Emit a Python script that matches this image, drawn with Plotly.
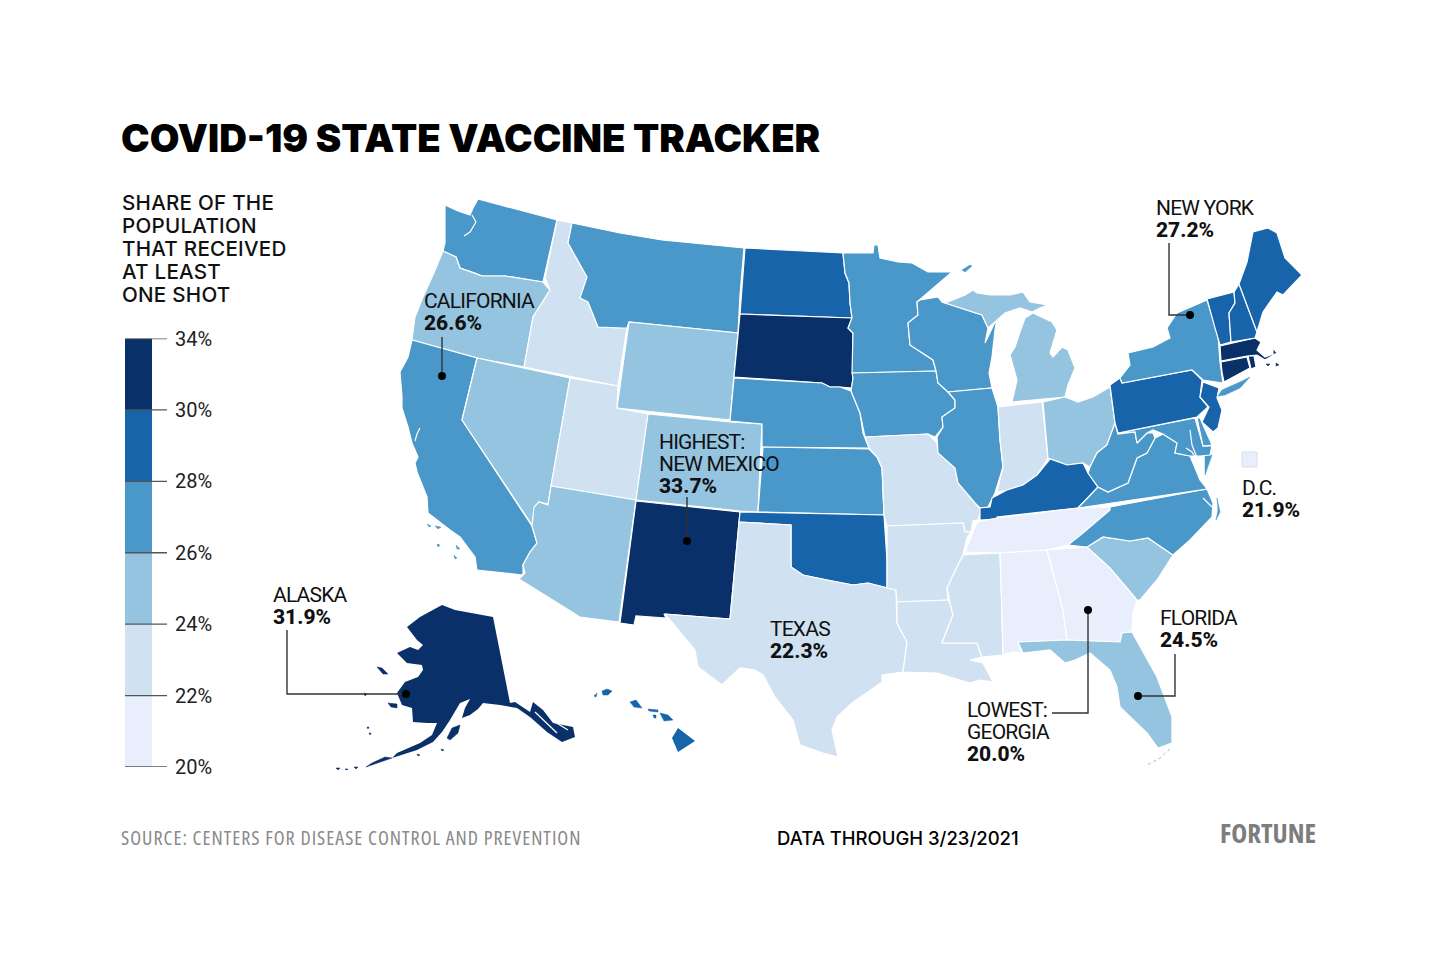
import plotly.graph_objects as go

# plotly's state topojson lives on a CDN that isn't reachable here, so the state
# outlines are traced by hand from the picture (x, y in image pixels)
state_codes = ["WA", "OR", "CA", "NV", "ID", "MT", "WY", "UT", "AZ", "CO", "NM", "ND", "SD", "NE", "KS", "OK", "TX",
               "MN", "IA", "MO", "AR", "LA", "WI", "IL", "MI", "IN", "OH", "KY", "TN", "MS", "AL", "GA", "FL", "SC",
               "NC", "VA", "WV", "MD", "DE", "PA", "NJ", "NY", "CT", "RI", "MA", "VT", "NH", "ME", "AK", "HI"]
state_values = [27.0, 25.0, 26.6, 25.0, 23.0, 27.0, 25.0, 23.0, 25.0, 25.0, 33.7, 29.0, 32.0, 27.0, 27.0, 29.0, 22.3,
                27.0, 27.0, 23.0, 23.0, 23.0, 27.0, 27.0, 25.0, 23.0, 25.0, 29.0, 21.0, 23.0, 21.0, 20.0, 24.5, 25.0,
                27.0, 27.0, 27.0, 27.0, 27.0, 29.0, 29.0, 27.2, 31.0, 31.0, 31.0, 29.0, 29.0, 29.0, 31.9, 29.0]
dc_value = 21.9

bin_edges = [20, 22, 24, 26, 28, 30, 34]
bin_colors = ["#e8eefb", "#d0e1f2", "#94c4df", "#4a98c9", "#1764ab", "#0a3069"]
tick_labels = ["20%", "22%", "24%", "26%", "28%", "30%", "34%"]

state_outlines = {
    "WA": [[(445, 205), (458, 211), (470, 215), (473, 208), (478, 199), (512, 208), (557, 220), (543, 282), (505, 276),
            (482, 276), (475, 273), (460, 268), (456, 257), (443, 251), (445, 243), (445, 223)]],
    "OR": [[(443, 251), (456, 257), (460, 268), (475, 273), (482, 276), (505, 276), (543, 282), (550, 290), (533, 317),
            (524, 367), (477, 358), (412, 340), (415, 317), (423, 297), (433, 275)]],
    "CA": [[(412, 340), (477, 358), (462, 420), (532, 526), (537, 543), (530, 552), (523, 565), (523, 575), (477, 570),
            (475, 557), (460, 537), (450, 530), (428, 513), (427, 497), (417, 472), (415, 463), (418, 457), (412, 443),
            (408, 427), (402, 408), (402, 397), (400, 372), (408, 357)]],
    "NV": [[(477, 358), (570, 378), (551, 486), (548, 504), (539, 502), (535, 507), (532, 525), (462, 420)]],
    "ID": [[(557, 220), (572, 223), (568, 243), (587, 277), (580, 298), (588, 302), (598, 327), (622, 328), (627, 327),
            (618, 386), (524, 367), (533, 317), (550, 290), (545, 278)]],
    "MT": [[(572, 223), (620, 233), (662, 240), (744, 248), (740, 295), (738, 333), (629, 322), (627, 328), (622, 328),
            (598, 327), (588, 302), (580, 298), (587, 277), (568, 243)]],
    "WY": [[(629, 322), (738, 333), (730, 420), (617, 408)]],
    "UT": [[(570, 378), (618, 386), (617, 408), (648, 414), (636, 500), (551, 486)]],
    "AZ": [[(551, 486), (636, 500), (619, 622), (580, 617), (519, 579), (525, 573), (523, 565), (530, 552), (537, 543),
            (532, 526), (534, 507), (539, 502), (548, 505)]],
    "CO": [[(648, 414), (730, 422), (762, 424), (758, 512), (740, 511), (636, 500)]],
    "NM": [[(636, 501), (740, 512), (730, 619), (664, 614), (666, 618), (636, 616), (634, 625), (620, 623)]],
    "ND": [[(745, 248), (800, 251), (843, 253), (845, 273), (849, 283), (850, 303), (852, 318), (740, 314)]],
    "SD": [[(740, 314), (852, 318), (848, 328), (853, 333), (853, 375), (852, 388), (840, 387), (830, 387), (822, 383),
            (734, 377)]],
    "NE": [[(734, 378), (822, 383), (830, 387), (840, 387), (851, 391), (860, 413), (863, 433), (869, 448), (762, 447),
            (762, 424), (730, 421)]],
    "KS": [[(763, 447), (869, 449), (877, 457), (882, 468), (884, 515), (758, 512)]],
    "OK": [[(740, 512), (884, 515), (887, 560), (887, 588), (868, 583), (853, 585), (827, 580), (803, 575), (791, 567),
            (791, 525), (739, 522)]],
    "TX": [[(739, 522), (791, 525), (791, 567), (803, 575), (827, 580), (853, 585), (868, 583), (887, 588), (896, 590),
            (897, 623), (907, 642), (903, 672), (882, 675), (882, 682), (860, 697), (852, 703), (837, 717), (832, 730),
            (838, 757), (823, 753), (800, 745), (793, 720), (775, 697), (763, 675), (755, 670), (740, 668), (722, 685),
            (698, 667), (695, 650), (680, 632), (665, 614), (730, 619)]],
    "MN": [[(843, 253), (873, 253), (874, 245), (878, 245), (880, 258), (898, 262), (912, 263), (928, 272), (952, 272),
            (920, 300), (917, 302), (918, 315), (908, 323), (910, 345), (933, 360), (936, 371), (852, 373), (853, 333),
            (848, 328), (852, 318), (850, 303), (849, 283), (845, 273)]],
    "IA": [[(852, 373), (936, 371), (938, 383), (948, 392), (955, 400), (955, 408), (942, 417), (943, 427), (935, 437),
            (928, 434), (865, 437), (860, 413), (851, 391), (853, 378)]],
    "MO": [[(865, 437), (928, 434), (937, 443), (938, 453), (955, 468), (958, 483), (975, 503), (981, 510), (978, 520),
            (973, 521), (971, 532), (965, 532), (963, 523), (887, 526), (884, 515), (882, 468), (877, 457), (869, 448)]],
    "AR": [[(887, 526), (963, 523), (965, 532), (971, 532), (967, 538), (963, 555), (957, 567), (947, 588), (948, 600),
            (897, 602), (896, 590), (887, 588), (887, 543)]],
    "LA": [[(897, 602), (948, 600), (950, 603), (953, 615), (942, 643), (977, 643), (982, 657), (970, 660), (983, 663),
            (993, 682), (980, 680), (970, 683), (950, 677), (937, 673), (903, 672), (907, 642), (897, 623)]],
    "WI": [[(920, 300), (938, 297), (942, 302), (982, 315), (988, 328), (985, 343), (997, 318), (995, 330), (992, 357),
            (989, 373), (992, 388), (948, 392), (938, 383), (936, 371), (933, 360), (910, 345), (908, 323), (918, 315),
            (917, 302)]],
    "IL": [[(948, 392), (992, 388), (998, 407), (1000, 440), (1003, 467), (995, 493), (988, 507), (980, 508), (975, 503),
            (958, 483), (955, 468), (938, 453), (937, 437), (943, 427), (942, 417), (955, 408), (955, 400)]],
    "MI": [[(942, 302), (948, 302), (965, 295), (973, 290), (977, 293), (990, 295), (1010, 295), (1023, 292), (1030, 302),
            (1048, 305), (1040, 308), (1032, 312), (1020, 308), (1005, 313), (995, 322), (988, 328), (982, 315)],
           [(1012, 402), (1065, 397), (1068, 385), (1075, 368), (1068, 350), (1062, 347), (1053, 357), (1050, 353),
            (1057, 330), (1052, 322), (1033, 313), (1025, 318), (1020, 332), (1015, 347), (1010, 355), (1017, 380)]],
    "IN": [[(998, 407), (1042, 402), (1048, 458), (1037, 475), (1023, 485), (1007, 490), (997, 492), (1003, 467),
            (1000, 440)]],
    "OH": [[(1043, 402), (1065, 397), (1078, 402), (1093, 397), (1110, 387), (1115, 423), (1107, 445), (1097, 453),
            (1090, 467), (1083, 463), (1067, 465), (1050, 459), (1048, 458)]],
    "KY": [[(980, 520), (980, 508), (990, 507), (992, 498), (1007, 490), (1023, 485), (1037, 475), (1050, 459), (1067, 465),
            (1083, 463), (1088, 473), (1098, 487), (1078, 508), (997, 517), (997, 519)]],
    "TN": [[(965, 552), (977, 522), (997, 518), (1078, 508), (1110, 507), (1110, 510), (1083, 533), (1068, 545), (1047, 550),
            (1000, 553)]],
    "MS": [[(963, 555), (1000, 553), (1002, 613), (1003, 655), (982, 657), (977, 643), (942, 643), (953, 615), (950, 603),
            (947, 588), (957, 567)]],
    "AL": [[(1000, 553), (1047, 550), (1063, 610), (1067, 640), (1018, 642), (1022, 653), (1012, 652), (1003, 655),
            (1002, 613)]],
    "GA": [[(1047, 550), (1087, 547), (1110, 568), (1127, 588), (1137, 600), (1133, 613), (1132, 632), (1122, 633),
            (1120, 642), (1067, 640), (1063, 610)]],
    "FL": [[(1018, 642), (1067, 640), (1120, 642), (1122, 633), (1132, 632), (1157, 677), (1172, 717), (1172, 743),
            (1158, 748), (1147, 733), (1120, 707), (1117, 687), (1110, 670), (1090, 653), (1075, 660), (1065, 663),
            (1050, 650), (1023, 653)]],
    "SC": [[(1087, 547), (1103, 537), (1130, 541), (1148, 538), (1173, 555), (1157, 580), (1140, 600), (1137, 600),
            (1127, 588), (1110, 568)]],
    "NC": [[(1068, 545), (1083, 533), (1110, 510), (1110, 507), (1207, 489), (1213, 503), (1212, 517), (1200, 530),
            (1190, 540), (1173, 555), (1148, 538), (1130, 541), (1103, 537), (1087, 547)]],
    "VA": [[(1078, 508), (1098, 487), (1108, 492), (1128, 483), (1137, 458), (1147, 453), (1155, 438), (1163, 434),
            (1177, 443), (1175, 453), (1190, 456), (1196, 470), (1200, 480), (1207, 489)]],
    "WV": [[(1115, 423), (1118, 434), (1135, 432), (1137, 443), (1147, 433), (1153, 433), (1155, 438), (1147, 453),
            (1137, 458), (1128, 483), (1108, 492), (1098, 487), (1088, 473), (1090, 467), (1097, 453), (1107, 445)]],
    "MD": [[(1118, 433), (1195, 418), (1203, 446), (1212, 446), (1210, 455), (1200, 456), (1190, 456), (1175, 453),
            (1177, 443), (1163, 434), (1153, 430), (1147, 433), (1137, 443), (1135, 432)]],
    "DE": [[(1197, 418), (1200, 418), (1212, 445), (1203, 446)]],
    "PA": [[(1110, 385), (1120, 378), (1122, 383), (1192, 370), (1202, 380), (1200, 397), (1208, 407), (1197, 417),
            (1118, 433), (1115, 423)]],
    "NJ": [[(1203, 382), (1219, 388), (1217, 398), (1222, 410), (1218, 428), (1213, 432), (1202, 422), (1209, 407),
            (1200, 397)]],
    "NY": [[(1122, 383), (1120, 378), (1130, 365), (1128, 353), (1153, 347), (1170, 338), (1167, 328), (1177, 313),
            (1207, 300), (1218, 335), (1220, 362), (1223, 383), (1203, 380), (1192, 370)]],
    "CT": [[(1221, 362), (1247, 357), (1250, 368), (1224, 382), (1222, 372)]],
    "RI": [[(1248, 356), (1254, 356), (1256, 367), (1251, 369)]],
    "MA": [[(1220, 346), (1255, 338), (1261, 342), (1257, 350), (1265, 357), (1273, 354), (1273, 348), (1277, 353),
            (1265, 360), (1257, 355), (1247, 356), (1221, 361)]],
    "VT": [[(1207, 299), (1234, 292), (1235, 303), (1229, 313), (1231, 342), (1220, 345), (1215, 328)]],
    "NH": [[(1234, 292), (1239, 284), (1257, 332), (1255, 338), (1231, 342), (1229, 313), (1235, 303)]],
    "ME": [[(1239, 284), (1247, 262), (1253, 232), (1268, 228), (1277, 233), (1285, 258), (1302, 275), (1283, 295),
            (1277, 292), (1263, 312), (1257, 332)]],
    "AK": [[(442, 605), (455, 610), (493, 617), (510, 703), (515, 702), (530, 712), (533, 702), (543, 710), (553, 723),
            (573, 727), (575, 737), (562, 742), (547, 732), (530, 717), (517, 708), (500, 705), (483, 703), (478, 709),
            (470, 715), (462, 718), (465, 708), (470, 699), (460, 703), (450, 720), (442, 732), (433, 742), (417, 750),
            (402, 755), (392, 758), (397, 753), (408, 748), (420, 743), (432, 735), (437, 723), (427, 723), (413, 722),
            (412, 708), (402, 705), (397, 693), (405, 682), (418, 677), (423, 670), (422, 665), (407, 663), (397, 653),
            (410, 647), (418, 650), (423, 645), (417, 640), (407, 627), (420, 617), (433, 610)]],
    "HI": [[(678, 728), (695, 741), (678, 752), (672, 738)]],
}

# pieces with no white edge round them: islands, mostly
island_outlines = {
    "CA": [[(427, 524), (431, 526), (429, 527)], [(435, 526), (441, 527), (438, 529)], [(437, 544), (440, 545), (438, 547)],
           [(456, 545), (460, 549), (457, 549)], [(454, 555), (457, 558), (455, 559)]],
    "MN": [[(962, 270), (970, 265), (972, 266), (965, 272)]],
    "NC": [[(1217, 498), (1220, 512), (1216, 520), (1218, 510)]],
    "VA": [[(1205, 456), (1212, 455), (1205, 475)]],
    "NY": [[(1218, 396), (1222, 390), (1240, 382), (1250, 377), (1240, 388), (1225, 395)]],
    "MA": [[(1266, 364), (1270, 364), (1268, 366)], [(1276, 363), (1279, 365), (1276, 366)]],
    "AK": [[(392, 758), (380, 762), (366, 767), (372, 763), (385, 757)],
           [(377, 667), (382, 668), (388, 674), (383, 674)],
           [(388, 703), (397, 704), (397, 708), (391, 707)],
           [(447, 738), (452, 728), (460, 725), (458, 733), (450, 740)],
           [(336, 768), (340, 768), (338, 770)], [(345, 769), (348, 769), (347, 770)], [(354, 767), (358, 767), (356, 769)],
           [(364, 693), (367, 694), (365, 696)], [(367, 727), (369, 727), (368, 729)], [(369, 733), (371, 733), (370, 735)],
           [(441, 749), (444, 750), (442, 751)], [(417, 754), (420, 755), (418, 756)]],
    "HI": [[(660, 713), (668, 715), (673, 720), (664, 721)],
           [(630, 702), (636, 700), (642, 708), (634, 707)],
           [(602, 691), (607, 689), (612, 691), (608, 695), (603, 695)],
           [(648, 709), (658, 710), (658, 712), (649, 711)],
           [(653, 715), (656, 715), (656, 718), (654, 718)],
           [(594, 696), (597, 693), (596, 697)]],
}

# bays and channels that show as thin white slits
water_x = [464, 470, 476, 472, None, 420, 417, 415, None, 1190, 1192, 1198, 1204, None, 1186, 1192, 1197, None,
           1203, 1208, 1212, None, 535, 545, 557, None, 545, 555, 568]
water_y = [236, 232, 222, 215, None, 428, 434, 441, None, 430, 445, 460, 475, None, 448, 452, 460, None,
           498, 503, 507, None, 712, 722, 733, None, 711, 722, 730]

keys_x = [1170, 1160, 1147]
keys_y = [749, 758, 765]

# callout text
callout_names = [["NEW YORK"], ["CALIFORNIA"], ["HIGHEST:", "NEW MEXICO"], ["ALASKA"], ["TEXAS"],
                 ["LOWEST:", "GEORGIA"], ["FLORIDA"], ["D.C."]]
callout_values = ["27.2%", "26.6%", "33.7%", "31.9%", "22.3%", "20.0%", "24.5%", "21.9%"]
callout_x = [1156, 424, 659, 273, 770, 967, 1160, 1242]
callout_y = [207, 300, 441, 594, 628, 709, 617, 487]

leader_x = [[1169, 1169, 1190], [442, 442], [687, 687], [287, 287, 406], [1052, 1088, 1088], [1175, 1175, 1138]]
leader_y = [[243, 315, 315], [337, 376], [497, 541], [630, 694, 694], [713, 713, 610], [654, 696, 696]]
dot_x = [1190, 442, 687, 406, 1088, 1138]
dot_y = [315, 376, 541, 694, 610, 696]

legend_title = ["SHARE OF THE", "POPULATION", "THAT RECEIVED", "AT LEAST", "ONE SHOT"]

W, H = 1439, 960
PAGE = 8  # the page body keeps its default margin
SANS = "Inter"
PLAIN = "Roboto"
LINE_GAP = 22  # plotly's line height is 1.3 x the annotation's font size


def bin_color(value):
    for i in range(len(bin_colors)):
        if value < bin_edges[i + 1]:
            return bin_colors[i]
    return bin_colors[-1]


def add_text(fig, x, y, text, size, color="#111111", family=SANS, weight=None):
    fig.add_annotation(x=x, y=y, xref="x", yref="y", text=text, showarrow=False, xanchor="left", yanchor="middle",
                       xshift=-2, align="left", font=dict(size=size, color=color, family=family, weight=weight))


def tight(s, spacing=-0.8, size=None):
    style = f"letter-spacing:{spacing}px"
    if size:
        style += f";font-size:{size}px"
    return f'<span style="{style}">{s}</span>'


def rings_to_xy(rings):
    xs, ys = [], []
    for ring in rings:
        xs += [p[0] for p in ring] + [ring[0][0], None]
        ys += [p[1] for p in ring] + [ring[0][1], None]
    return xs, ys


fig = go.Figure()

for code, value in zip(state_codes, state_values):
    xs, ys = rings_to_xy(state_outlines[code])
    edge = 0 if code in ("AK", "HI") else 1.2
    fig.add_trace(go.Scatter(x=xs, y=ys, mode="lines", fill="toself", fillcolor=bin_color(value),
                             line=dict(color="white", width=edge), name=code, hoverinfo="name"))
    if code in island_outlines:
        xs, ys = rings_to_xy(island_outlines[code])
        fig.add_trace(go.Scatter(x=xs, y=ys, mode="lines", fill="toself", fillcolor=bin_color(value),
                                 line=dict(color=bin_color(value), width=0.5), name=code, hoverinfo="name"))

fig.add_trace(go.Scatter(x=water_x, y=water_y, mode="lines", line=dict(color="white", width=1.2), hoverinfo="skip"))
fig.add_trace(go.Scatter(x=keys_x, y=keys_y, mode="lines", line=dict(color=bin_colors[2], width=1, dash="dot"),
                         hoverinfo="skip"))

# D.C. swatch
fig.add_trace(go.Scatter(x=[1249.5], y=[459.5], mode="markers", hoverinfo="skip",
                         marker=dict(symbol="square", size=15, color=bin_color(dc_value),
                                     line=dict(color="#d9dcec", width=1))))

for lx, ly in zip(leader_x, leader_y):
    fig.add_trace(go.Scatter(x=lx, y=ly, mode="lines", line=dict(color="#333333", width=1.4), hoverinfo="skip"))

fig.add_trace(go.Scatter(x=dot_x, y=dot_y, mode="markers", marker=dict(size=8, color="black"), hoverinfo="skip"))

# colour key: six equal steps, so it gets its own axes
for i, c in enumerate(bin_colors):
    fig.add_trace(go.Bar(x=[13.5], y=[1], base=[i], width=[27], marker=dict(color=c, line=dict(width=0)),
                         xaxis="x2", yaxis="y2", hoverinfo="skip"))
for i in range(len(tick_labels)):
    fig.add_shape(type="line", xref="x2", yref="y2", x0=0, x1=42, y0=i, y1=i, line=dict(color="#555555", width=1.4))

fig.update_layout(
    width=W, height=H, margin=dict(l=0, r=0, t=0, b=0), paper_bgcolor="white", plot_bgcolor="white",
    showlegend=False, barmode="overlay",
    xaxis=dict(range=[PAGE, W + PAGE], visible=False, domain=[0, 1]),
    yaxis=dict(range=[H + PAGE, PAGE], visible=False, domain=[0, 1]),
    xaxis2=dict(range=[0, 42], domain=[(125 - PAGE) / W, (167 - PAGE) / W], anchor="y2", visible=False),
    yaxis2=dict(range=[0, 6], domain=[1 - (767 - PAGE) / H, 1 - (338.5 - PAGE) / H], anchor="x2", side="right",
                showgrid=False, zeroline=False, showline=False, automargin=False, tickvals=list(range(7)),
                ticktext=tick_labels, ticks="outside", ticklen=3, tickcolor="rgba(0,0,0,0)",
                tickfont=dict(family="Roboto", size=20, color="#222222")),
)

add_text(fig, 121, 138, "COVID-19 STATE VACCINE TRACKER", 38.3, color="black", weight=900)

add_text(fig, 122, 248, "<br>".join(tight(s, spacing=0.25, size=20.6) for s in legend_title), 23 / 1.3, weight=500)

for names, val, x, y in zip(callout_names, callout_values, callout_x, callout_y):
    lines = [tight(n, size=21) for n in names]
    lines.append(f'<span style="font-weight:800;font-size:21px">{val}</span>')
    add_text(fig, x, y + 0.5 + len(names) * LINE_GAP / 2, "<br>".join(lines), LINE_GAP / 1.3, family=PLAIN)

add_text(fig, 121, 837, '<span style="font-stretch:75%;letter-spacing:1px">'
         "SOURCE: CENTERS FOR DISEASE CONTROL AND PREVENTION</span>", 20, color="#8a8a8a", family="Open Sans")
add_text(fig, 777, 838, "DATA THROUGH 3/23/2021", 18.5, color="black", weight=500)
add_text(fig, 1220, 832, '<span style="font-stretch:75%">FORTUNE</span>', 27, color="#7d7d7d", family="Open Sans",
         weight=700)

fig.write_html("out.html")
